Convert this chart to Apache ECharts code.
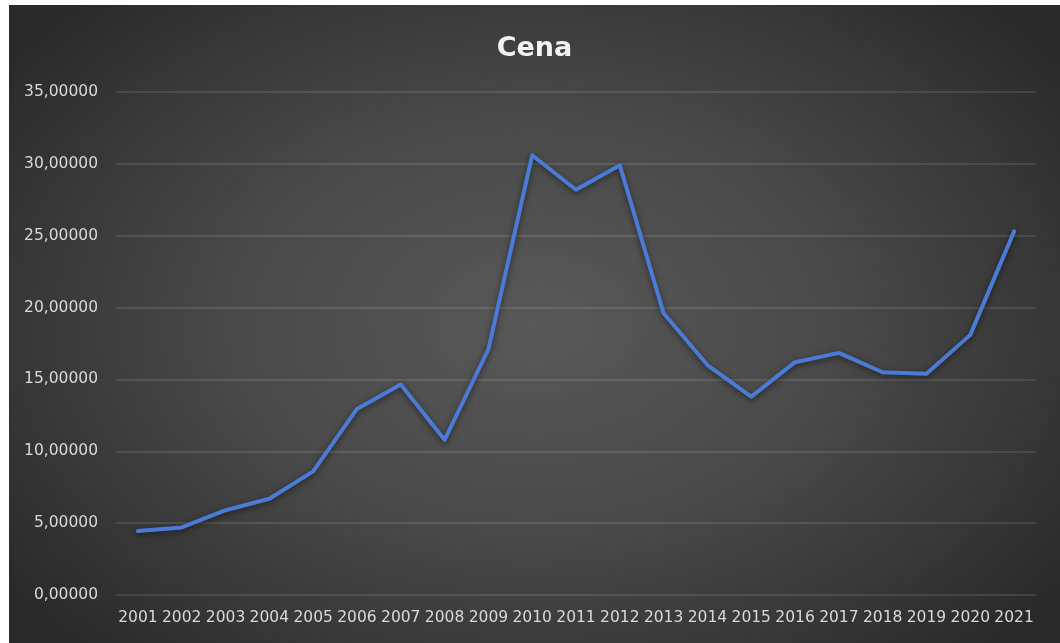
<!DOCTYPE html>
<html>
<head>
<meta charset="utf-8">
<script src="https://cdn.jsdelivr.net/npm/echarts@6/dist/echarts.min.js"></script>
<style>
  html, body { margin: 0; padding: 0; background: #ffffff; width: 1060px; height: 643px; overflow: hidden; }
  #chart {
    position: absolute; left: 9px; top: 5px; width: 1051px; height: 638px;
    background: radial-gradient(ellipse 62% 70% at 50% 50%, #585858 0%, #4a4a4a 45%, #363636 80%, #2a2a2a 100%);
  }
</style>
</head>
<body>
<div id="chart"></div>
<script>
const title = 'Cena';
const years = ['2001','2002','2003','2004','2005','2006','2007','2008','2009','2010','2011',
               '2012','2013','2014','2015','2016','2017','2018','2019','2020','2021'];
const prices = [4.45, 4.7, 5.9, 6.7, 8.6, 12.95, 14.65, 10.8, 17.1, 30.6, 28.2,
                29.9, 19.6, 16.0, 13.8, 16.2, 16.85, 15.5, 15.4, 18.1, 25.3];
const yTicks = [0, 5, 10, 15, 20, 25, 30, 35];

const chart = echarts.init(document.getElementById('chart'), null, { renderer: 'canvas' });
chart.setOption({
  backgroundColor: 'transparent',
  animation: false,
  title: {
    text: title,
    left: 'center',
    top: 25,
    textStyle: { color: '#f2f2f2', fontFamily: 'DejaVu Sans', fontWeight: 'bold', fontSize: 27 }
  },
  grid: { left: 107, right: 24, top: 87, bottom: 48, containLabel: false },
  xAxis: {
    type: 'category',
    data: years,
    boundaryGap: true,
    axisLine: { show: false },
    axisTick: { show: false },
    axisLabel: {
      interval: 0, margin: 15, color: '#d9d9d9',
      fontFamily: 'DejaVu Sans', fontSize: 15.5
    },
    splitLine: { show: false }
  },
  yAxis: {
    type: 'value',
    min: yTicks[0],
    max: yTicks[yTicks.length - 1],
    interval: 5,
    axisLine: { show: false },
    axisTick: { show: false },
    axisLabel: {
      margin: 18, color: '#d9d9d9',
      fontFamily: 'DejaVu Sans', fontSize: 15.5,
      formatter: v => v.toFixed(5).replace('.', ',')
    },
    splitLine: { show: true, lineStyle: { color: 'rgba(255,255,255,0.14)', width: 1.5 } }
  },
  series: [{
    type: 'line',
    name: title,
    data: prices,
    smooth: false,
    symbol: 'none',
    lineStyle: {
      color: '#4a7bd6', width: 4, cap: 'round', join: 'round',
      shadowColor: 'rgba(0,0,0,0.55)', shadowBlur: 6, shadowOffsetY: 2
    }
  }]
});
</script>
</body>
</html>
